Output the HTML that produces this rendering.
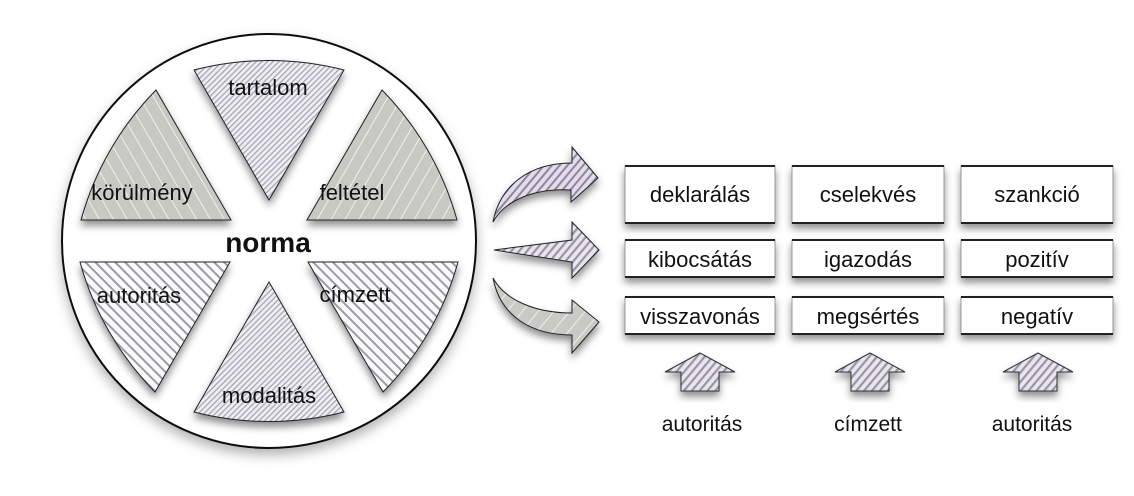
<!DOCTYPE html>
<html><head><meta charset="utf-8"><style>
html,body{margin:0;padding:0;background:#fff;}
svg{display:block;font-family:"Liberation Sans",Arial,sans-serif;}
</style></head><body>
<svg width="1134" height="496" viewBox="0 0 1134 496" xmlns="http://www.w3.org/2000/svg">
<defs>
<filter id="sh" x="-20%" y="-20%" width="150%" height="150%">
<feDropShadow dx="0" dy="5" stdDeviation="4" flood-color="#000" flood-opacity="0.45"/>
</filter>
<filter id="shc" x="-20%" y="-20%" width="150%" height="150%">
<feDropShadow dx="0" dy="6" stdDeviation="6" flood-color="#000" flood-opacity="0.3"/>
</filter>
<pattern id="pA" width="4" height="4" patternUnits="userSpaceOnUse" patternTransform="rotate(45)">
<rect width="4" height="4" fill="#efeff2"/><rect width="1.3" height="4" fill="#a8a5b8"/>
</pattern>
<pattern id="pB" width="12" height="12" patternUnits="userSpaceOnUse" patternTransform="rotate(-30)">
<rect width="12" height="12" fill="#c8c9c3"/><rect width="1" height="12" fill="#f2eef0"/>
</pattern>
<pattern id="pB2" width="12" height="12" patternUnits="userSpaceOnUse" patternTransform="rotate(30)">
<rect width="12" height="12" fill="#c8c9c3"/><rect width="1" height="12" fill="#f2eef0"/>
</pattern>
<pattern id="pC" width="7" height="7" patternUnits="userSpaceOnUse" patternTransform="rotate(-45)">
<rect width="7" height="7" fill="#fbfbfc"/><rect width="2" height="7" fill="#9c99ad"/>
</pattern>
<pattern id="pD" width="6" height="6" patternUnits="userSpaceOnUse" patternTransform="rotate(40)">
<rect width="6" height="6" fill="#e4dcec"/><rect width="2" height="6" fill="#8c8898"/>
</pattern>
<pattern id="pE" width="6" height="6" patternUnits="userSpaceOnUse" patternTransform="rotate(40)">
<rect width="6" height="6" fill="#e8e6ec"/><rect width="2.2" height="6" fill="#9894a6"/>
</pattern>
<pattern id="pF" width="12" height="12" patternUnits="userSpaceOnUse" patternTransform="rotate(40)">
<rect width="12" height="12" fill="#c9cac4"/><rect width="1" height="12" fill="#f0eef6"/>
</pattern>
</defs>

<circle cx="269" cy="241" r="207" fill="#fff" stroke="#111" stroke-width="2" filter="url(#shc)"/>

<g stroke="#222" stroke-width="1" filter="url(#sh)">
<path d="M269,200 L194,70 A300,300 0 0 1 344,70 Z" fill="url(#pA)"/>
<path d="M269,282 L344,412 A300,300 0 0 1 194,412 Z" fill="url(#pA)"/>
<path d="M231,220 L81,220 A300,300 0 0 1 156,90 Z" fill="url(#pB)"/>
<path d="M307,220 L382,90 A300,300 0 0 1 457,220 Z" fill="url(#pB2)"/>
<path d="M230,262 L155,392 A300,300 0 0 1 80,262 Z" fill="url(#pC)"/>
<path d="M308,262 L458,262 A300,300 0 0 1 383,392 Z" fill="url(#pC)"/>
</g>

<g font-size="22" fill="#111" text-anchor="middle">
<text x="268" y="95">tartalom</text>
<text x="142" y="200">körülmény</text>
<text x="352" y="200">feltétel</text>
<text x="139" y="303">autoritás</text>
<text x="355" y="302">címzett</text>
<text x="269" y="403">modalitás</text>
<text x="268" y="252" font-size="28" font-weight="bold">norma</text>
</g>

<g stroke="#222" stroke-width="1" filter="url(#sh)">
<path d="M493,222 C500,185 530,163 572,163 L572,147 L598,178 L571,202 L571,190 C535,188 505,200 493,222 Z" fill="url(#pD)"/>
<path d="M494,250 L572,240 L572,222 L599,250 L572,278 L572,262 Z" fill="url(#pE)"/>
<path d="M493,278 C505,300 535,313 572,313 L572,300 L599,322 L572,353 L572,335 C530,335 500,315 493,278 Z" fill="url(#pF)"/>
</g>

<g filter="url(#sh)">
<g fill="#fff" stroke="#999" stroke-width="1">
<rect x="625" y="166" width="150" height="57"/>
<rect x="792" y="166" width="152" height="57"/>
<rect x="961" y="166" width="152" height="57"/>
<rect x="625" y="240" width="150" height="37"/>
<rect x="792" y="240" width="152" height="37"/>
<rect x="961" y="240" width="152" height="37"/>
<rect x="625" y="297" width="150" height="37"/>
<rect x="792" y="297" width="152" height="37"/>
<rect x="961" y="297" width="152" height="37"/>
</g>
</g>
<g stroke="#222" stroke-width="2">
<path d="M625,166H775M792,166H944M961,166H1113M625,223H775M792,223H944M961,223H1113"/>
<path d="M625,240H775M792,240H944M961,240H1113M625,277H775M792,277H944M961,277H1113"/>
<path d="M625,297H775M792,297H944M961,297H1113M625,334H775M792,334H944M961,334H1113"/>
</g>
<g font-size="22" fill="#111" text-anchor="middle">
<text x="700" y="202">deklarálás</text>
<text x="868" y="202">cselekvés</text>
<text x="1037" y="202">szankció</text>
<text x="700" y="267">kibocsátás</text>
<text x="868" y="267">igazodás</text>
<text x="1037" y="267">pozitív</text>
<text x="700" y="324">visszavonás</text>
<text x="868" y="324">megsértés</text>
<text x="1037" y="324">negatív</text>
</g>

<g stroke="#333" stroke-width="1" fill="url(#pE)" filter="url(#sh)">
<path d="M700,353 L735,372 L719,372 L719,391 L681,391 L681,372 L665,372 Z"/>
<path d="M870,353 L905,372 L889,372 L889,391 L851,391 L851,372 L835,372 Z"/>
<path d="M1038,353 L1073,372 L1057,372 L1057,391 L1019,391 L1019,372 L1003,372 Z"/>
</g>
<g font-size="21" fill="#111" text-anchor="middle">
<text x="702" y="431">autoritás</text>
<text x="868" y="431">címzett</text>
<text x="1032" y="431">autoritás</text>
</g>
</svg>
</body></html>
